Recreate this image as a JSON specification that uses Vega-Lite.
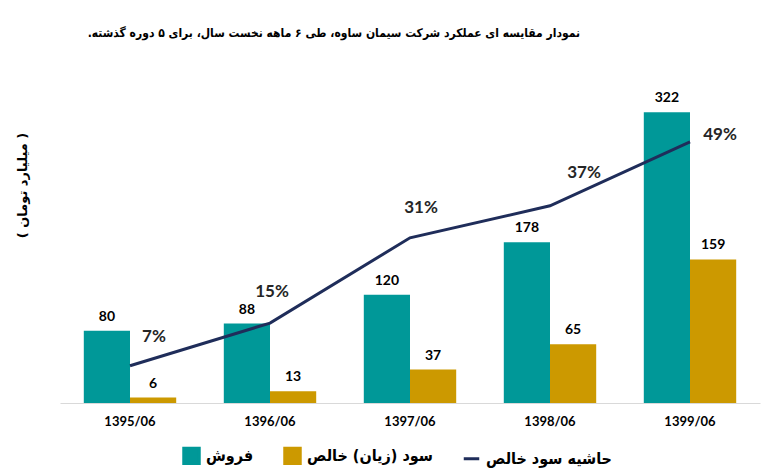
{
  "$schema": "https://vega.github.io/schema/vega-lite/v6.json",
  "width": 700,
  "height": 316,
  "autosize": {"type": "none"},
  "padding": {"left": 60, "top": 87, "right": 24, "bottom": 69},
  "title": {
    "text": "نمودار مقایسه ای عملکرد شرکت سیمان ساوه، طی ۶ ماهه نخست سال، برای ۵ دوره گذشته.‏",
    "anchor": "end",
    "dx": -180,
    "offset": 47,
    "font": "DejaVu Sans Condensed",
    "fontSize": 12,
    "fontWeight": "bold",
    "color": "#000000"
  },
  "datasets": {
    "bars": [
      {"period": "1395/06", "series": "فروش", "value": 80},
      {"period": "1395/06", "series": "سود (زیان) خالص", "value": 6},
      {"period": "1396/06", "series": "فروش", "value": 88},
      {"period": "1396/06", "series": "سود (زیان) خالص", "value": 13},
      {"period": "1397/06", "series": "فروش", "value": 120},
      {"period": "1397/06", "series": "سود (زیان) خالص", "value": 37},
      {"period": "1398/06", "series": "فروش", "value": 178},
      {"period": "1398/06", "series": "سود (زیان) خالص", "value": 65},
      {"period": "1399/06", "series": "فروش", "value": 322},
      {"period": "1399/06", "series": "سود (زیان) خالص", "value": 159}
    ],
    "margin": [
      {"period": "1395/06", "margin": 0.07},
      {"period": "1396/06", "margin": 0.15},
      {"period": "1397/06", "margin": 0.31},
      {"period": "1398/06", "margin": 0.37},
      {"period": "1399/06", "margin": 0.49}
    ]
  },
  "encoding": {
    "x": {
      "field": "period",
      "type": "nominal",
      "scale": {"paddingInner": 0.34, "paddingOuter": 0.17},
      "axis": {
        "title": null,
        "labelAngle": 0,
        "labelFont": "Lato",
        "labelFontWeight": "bold",
        "labelFontSize": 13,
        "labelColor": "#000000",
        "labelPadding": 12,
        "ticks": false,
        "domainColor": "#d9d9d9",
        "domainWidth": 1
      }
    }
  },
  "layer": [
    {
      "layer": [
        {
          "data": {"name": "bars"},
          "mark": {"type": "bar"},
          "encoding": {
            "xOffset": {
              "field": "series",
              "type": "nominal",
              "sort": ["فروش", "سود (زیان) خالص"],
              "scale": {"paddingInner": 0}
            },
            "y": {
              "field": "value",
              "type": "quantitative",
              "scale": {"domain": [0, 350], "nice": false},
              "axis": {
                "title": "( میلیارد تومان )",
                "labels": false,
                "ticks": false,
                "domain": false,
                "grid": false,
                "titleFont": "DejaVu Sans",
                "titleFontSize": 13,
                "titleFontWeight": "bold",
                "titleColor": "#000000",
                "titleX": -38,
                "titleY": 98,
                "titleAngle": -90,
                "titleAlign": "center",
                "titleBaseline": "middle"
              }
            },
            "color": {
              "field": "series",
              "type": "nominal",
              "scale": {
                "domain": ["فروش", "سود (زیان) خالص", "حاشیه سود خالص"],
                "range": ["#009898", "#cc9900", "#1f2d5a"]
              },
              "legend": {
                "title": null,
                "orient": "none",
                "legendX": 122,
                "legendY": 359,
                "direction": "horizontal",
                "labelFont": "DejaVu Sans Condensed",
                "labelFontSize": 16,
                "labelFontWeight": "bold",
                "labelColor": "#000000",
                "labelOffset": 5,
                "symbolSize": 240,
                "columnPadding": 24,
                "encode": {
                  "symbols": {
                    "update": {
                      "shape": {"signal": "datum.value === 'حاشیه سود خالص' ? 'stroke' : 'square'"},
                      "strokeWidth": {"value": 3},
                      "stroke": {"signal": "datum.value === 'حاشیه سود خالص' ? '#1f2d5a' : 'transparent'"}
                    }
                  }
                }
              }
            }
          }
        },
        {
          "data": {"name": "bars"},
          "mark": {
            "type": "text",
            "baseline": "bottom",
            "dy": -7,
            "font": "Lato",
            "fontSize": 14,
            "fontWeight": "bold",
            "color": "#000000"
          },
          "encoding": {
            "xOffset": {
              "field": "series",
              "type": "nominal",
              "sort": ["فروش", "سود (زیان) خالص"],
              "scale": {"paddingInner": 0}
            },
            "y": {"field": "value", "type": "quantitative"},
            "text": {"field": "value", "type": "quantitative"}
          }
        }
      ]
    },
    {
      "data": {"name": "margin"},
      "encoding": {
        "y": {
          "field": "margin",
          "type": "quantitative",
          "scale": {"domain": [0, 0.593], "nice": false},
          "axis": null
        }
      },
      "layer": [
        {
          "mark": {"type": "line", "strokeWidth": 3},
          "encoding": {
            "color": {"datum": "حاشیه سود خالص"}
          }
        },
        {
          "transform": [{"filter": "datum.period === '1395/06'"}],
          "mark": {"type": "text", "dx": 24, "dy": -29, "font": "Lato", "fontSize": 17, "fontWeight": "bold", "color": "#262626"},
          "encoding": {"text": {"field": "margin", "type": "quantitative", "format": ".0%"}}
        },
        {
          "transform": [{"filter": "datum.period === '1396/06'"}],
          "mark": {"type": "text", "dx": 2, "dy": -31, "font": "Lato", "fontSize": 17, "fontWeight": "bold", "color": "#262626"},
          "encoding": {"text": {"field": "margin", "type": "quantitative", "format": ".0%"}}
        },
        {
          "transform": [{"filter": "datum.period === '1397/06'"}],
          "mark": {"type": "text", "dx": 11, "dy": -30, "font": "Lato", "fontSize": 17, "fontWeight": "bold", "color": "#262626"},
          "encoding": {"text": {"field": "margin", "type": "quantitative", "format": ".0%"}}
        },
        {
          "transform": [{"filter": "datum.period === '1398/06'"}],
          "mark": {"type": "text", "dx": 34, "dy": -33, "font": "Lato", "fontSize": 17, "fontWeight": "bold", "color": "#262626"},
          "encoding": {"text": {"field": "margin", "type": "quantitative", "format": ".0%"}}
        },
        {
          "transform": [{"filter": "datum.period === '1399/06'"}],
          "mark": {"type": "text", "dx": 30, "dy": -7, "font": "Lato", "fontSize": 17, "fontWeight": "bold", "color": "#262626"},
          "encoding": {"text": {"field": "margin", "type": "quantitative", "format": ".0%"}}
        }
      ]
    }
  ],
  "resolve": {"scale": {"y": "independent"}},
  "config": {
    "view": {"stroke": null},
    "background": "#ffffff"
  }
}
